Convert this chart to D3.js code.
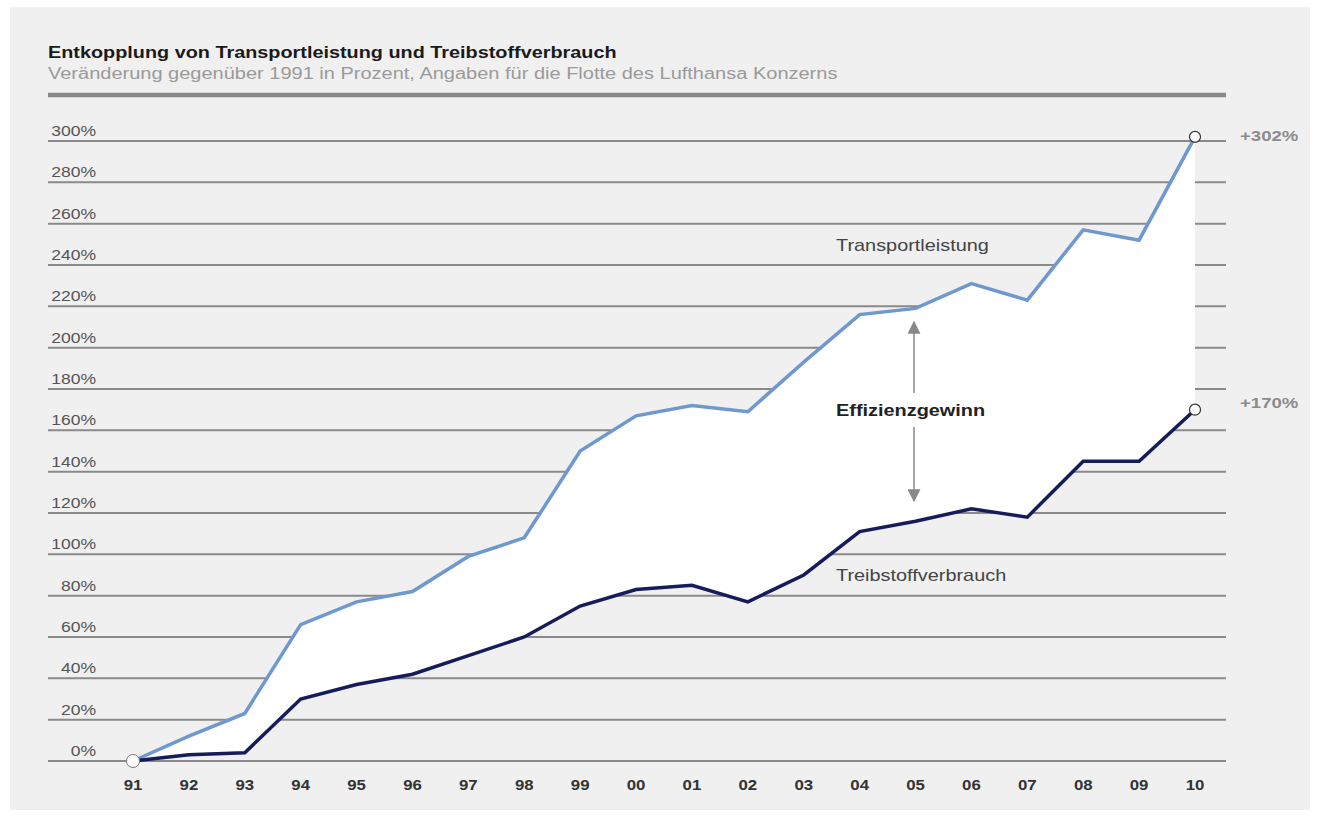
<!DOCTYPE html>
<html>
<head>
<meta charset="utf-8">
<style>
  body { margin: 0; background: #fff; font-family: "Liberation Sans", Arial, sans-serif; }
</style>
</head>
<body>
<div id="chart"></div>
<script src="https://d3js.org/d3.v7.min.js"></script>
<script>
    // chart data
    var years = ["91","92","93","94","95","96","97","98","99","00","01","02","03","04","05","06","07","08","09","10"];
    var transport = [0, 12, 23, 66, 77, 82, 99, 108, 150, 167, 172, 169, 193, 216, 219, 231, 223, 257, 252, 302];
    var fuel = [0, 3, 4, 30, 37, 42, 51, 60, 75, 83, 85, 77, 90, 111, 116, 122, 118, 145, 145, 170];
    var yTicks = [0, 20, 40, 60, 80, 100, 120, 140, 160, 180, 200, 220, 240, 260, 280, 300];

    var width = 1319, height = 819;

    var svg = d3.select("#chart").append("svg")
        .attr("width", width)
        .attr("height", height);

    // the reference type is a bit wider than ours, so stretch text horizontally
    function label(sel, x, y, txt, size, sx) {
        return sel.append("text")
            .attr("transform", "translate(" + x + "," + y + ") scale(" + sx + ",1)")
            .attr("font-size", size)
            .text(txt);
    }

    // gray panel
    svg.append("rect")
        .attr("x", 10).attr("y", 7)
        .attr("width", 1300).attr("height", 803)
        .attr("fill", "#f0f0f0");

    var x = d3.scalePoint().domain(years).range([133, 1195]);
    var y = d3.scaleLinear().domain([0, 300]).range([761, 141]);

    // title
    label(svg, 48, 58, "Entkopplung von Transportleistung und Treibstoffverbrauch", 16, 1.24)
        .attr("font-weight", "bold").attr("fill", "#1a1a1a");
    label(svg, 48, 79, "Veränderung gegenüber 1991 in Prozent, Angaben für die Flotte des Lufthansa Konzerns", 16, 1.25)
        .attr("fill", "#9a9a9a");

    svg.append("line")
        .attr("x1", 48).attr("x2", 1226)
        .attr("y1", 95).attr("y2", 95)
        .attr("stroke", "#888").attr("stroke-width", 4.5);

    // grid lines + labels
    var grid = svg.append("g");
    grid.selectAll("line").data(yTicks).enter().append("line")
        .attr("x1", 48).attr("x2", 1226)
        .attr("y1", function(d){ return y(d); })
        .attr("y2", function(d){ return y(d); })
        .attr("stroke", "#8a8a8a").attr("stroke-width", 2);
    yTicks.forEach(function(d){
        label(grid, 96, y(d) - 5, d + "%", 15, 1.17)
            .attr("text-anchor", "end").attr("fill", "#555");
    });

    // white area between the lines
    var area = d3.area()
        .x(function(d, i){ return x(years[i]); })
        .y0(function(d, i){ return y(fuel[i]); })
        .y1(function(d){ return y(d); });
    svg.append("path")
        .datum(transport)
        .attr("d", area)
        .attr("fill", "#fff");

    var line = d3.line()
        .x(function(d, i){ return x(years[i]); })
        .y(function(d){ return y(d); });

    svg.append("path").datum(transport)
        .attr("d", line).attr("fill", "none")
        .attr("stroke", "#6f98cf").attr("stroke-width", 3.5);
    svg.append("path").datum(fuel)
        .attr("d", line).attr("fill", "none")
        .attr("stroke", "#161c59").attr("stroke-width", 3.5);

    // x labels
    var xg = svg.append("g");
    years.forEach(function(d){
        label(xg, x(d), 790, d, 15, 1.12)
            .attr("text-anchor", "middle").attr("font-weight", "bold").attr("fill", "#333");
    });

    // markers
    var last = years.length - 1;
    svg.append("circle")
        .attr("cx", x(years[0])).attr("cy", y(0)).attr("r", 6.5)
        .attr("fill", "#fff").attr("stroke", "#777").attr("stroke-width", 1);
    [transport, fuel].forEach(function(s){
        svg.append("circle")
            .attr("cx", x(years[last])).attr("cy", y(s[last])).attr("r", 5.5)
            .attr("fill", "#fff").attr("stroke", "#333").attr("stroke-width", 1.2);
    });

    label(svg, 1240, y(transport[last]) + 4, "+" + transport[last] + "%", 15, 1.24)
        .attr("font-weight", "bold").attr("fill", "#8c8c8c");
    label(svg, 1240, y(fuel[last]) - 1.5, "+" + fuel[last] + "%", 15, 1.24)
        .attr("font-weight", "bold").attr("fill", "#8c8c8c");

    // annotations
    label(svg, 836, 251, "Transportleistung", 17, 1.17).attr("fill", "#444");
    label(svg, 836, 416, "Effizienzgewinn", 17, 1.17)
        .attr("font-weight", "bold").attr("fill", "#222");
    label(svg, 836, 581, "Treibstoffverbrauch", 17, 1.17).attr("fill", "#444");

    var defs = svg.append("defs");
    defs.append("marker")
        .attr("id", "arr")
        .attr("viewBox", "0 0 10 10")
        .attr("refX", 9).attr("refY", 5)
        .attr("markerWidth", 13).attr("markerHeight", 13)
        .attr("markerUnits", "userSpaceOnUse")
        .attr("orient", "auto-start-reverse")
        .append("path").attr("d", "M0,0 L10,5 L0,10 z").attr("fill", "#888");

    svg.append("line")
        .attr("x1", 914).attr("x2", 914)
        .attr("y1", 322).attr("y2", 393)
        .attr("stroke", "#888").attr("stroke-width", 1.5)
        .attr("marker-start", "url(#arr)");
    svg.append("line")
        .attr("x1", 914).attr("x2", 914)
        .attr("y1", 427).attr("y2", 501)
        .attr("stroke", "#888").attr("stroke-width", 1.5)
        .attr("marker-end", "url(#arr)");
</script>
</body>
</html>
